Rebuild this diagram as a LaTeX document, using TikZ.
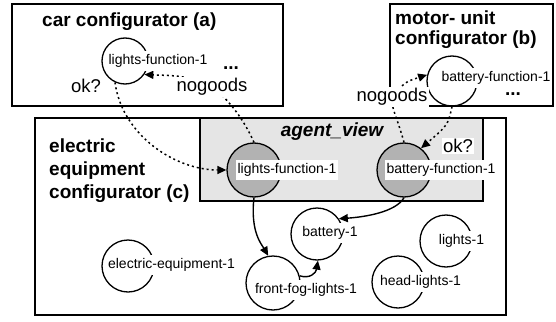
\documentclass[tikz,border=0pt]{standalone}
\usepackage{fontspec}
\setmainfont{Liberation Sans}
\usetikzlibrary{arrows.meta}
\definecolor{viewgray}{RGB}{229,229,229}
\definecolor{vargray}{RGB}{178,178,178}
\tikzset{
  frame/.style={draw, line width=1.6pt, rectangle, inner sep=0pt},
  viewframe/.style={frame, fill=viewgray},
  title/.style={font=\fontsize{19}{22.8}\selectfont\bfseries, align=left, inner sep=0pt, anchor=base west},
  var/.style={draw, line width=1.3pt, circle, inner sep=0pt},
  agentvar/.style={var, fill=vargray},
  vlabel/.style={font=\fontsize{14}{16}\selectfont, fill=white, inner xsep=1.5pt, inner ysep=3pt, text height=10.5pt, text depth=3pt},
  msg/.style={font=\fontsize{18.5}{20}\selectfont, fill=white, inner xsep=1.5pt, inner ysep=1.5pt},
  more/.style={font=\fontsize{19}{20}\selectfont\bfseries, inner sep=0pt},
  dotline/.style={line width=1.5pt, dash pattern=on 2pt off 3pt},
  tip/.style={-{Triangle[length=9pt,width=8pt]}},
  link/.style={line width=1.4pt, tip},
}
\begin{document}
\begin{tikzpicture}[x=1pt, y=-1pt]
\useasboundingbox (0,0) rectangle (556,321);

% configurator frames
\node[frame, minimum width=271pt, minimum height=102pt] (car) at (147.5,55) {};
\node[frame, minimum width=163pt, minimum height=102pt] (motor) at (471.5,55) {};
\node[frame, minimum width=471pt, minimum height=197pt] (elec) at (270.5,216.5) {};
\node[viewframe, minimum width=283pt, minimum height=83pt] (view) at (341.5,159.5) {};

% titles (multi-line titles sit on the baseline of their last line)
\node[title] (carT) at (42,27) {car configurator (a)};
\node[title, font=\fontsize{19}{20.5}\selectfont\bfseries] (motorT) at (395,45) {motor- unit\\configurator (b)};
\node[title] (elecT) at (49,198) {electric\\equipment\\configurator (c)};
\node[font=\fontsize{19}{20}\selectfont\bfseries\itshape, inner sep=0pt] (viewT) at (332,132) {agent\_view};

% variables
\node[var, minimum size=46pt] (carLF) at (125,61) {};
\node[var, minimum size=50pt] (motorBF) at (452,81) {};
\node[agentvar, minimum size=54pt] (agLF) at (254,170) {};
\node[agentvar, minimum size=54pt] (agBF) at (404,170) {};
\node[var, minimum size=52pt] (bat) at (317,234) {};
\node[var, minimum size=54pt] (fog) at (273,283) {};
\node[var, minimum size=52pt] (eq) at (128,266) {};
\node[var, minimum size=52pt] (head) at (398,282) {};
\node[var, minimum size=52pt] (lights) at (446,241) {};

% message paths
\coordinate (nogLc) at (212,87);
\coordinate (nogRc) at (392,97);
\draw[dotline, tip] (carLF.-115) .. controls (122,135) and (175,170) .. (agLF.west);
\draw[dotline] (agLF.north) .. controls (245,122) and (230,100) .. (nogLc);
\draw[dotline, tip] (nogLc) .. controls (185,76) .. (carLF.-35);
\draw[dotline] (agBF.north) .. controls (398,120) and (390,105) .. (nogRc);
\draw[dotline, tip] (nogRc) .. controls (405,82) .. (motorBF.166);
\draw[dotline, tip] (motorBF.south) .. controls (448,125) .. (agBF.52);

% constraint links
\draw[link] (agLF.south) .. controls (250,232) and (262,245) .. (fog.100);
\draw[link] (agBF.south) .. controls (396,212) and (365,217) .. (bat.35);
\draw[link] (fog.15) .. controls (310,279) and (316,273) .. (bat.-88);

% variable names
\node[vlabel] (carLFt) at (158,61) {lights-function-1};
\node[vlabel] (motorBFt) at (496,78) {battery-function-1};
\node[vlabel] (agLFt) at (287,170) {lights-function-1};
\node[vlabel] (agBFt) at (441,170) {battery-function-1};
\node[vlabel] (batt) at (330,233) {battery-1};
\node[vlabel] (fogt) at (306,290) {front-fog-lights-1};
\node[vlabel] (eqt) at (171.5,265) {electric-equipment-1};
\node[vlabel] (headt) at (420.5,282) {head-lights-1};
\node[vlabel] (lightst) at (461.5,241) {lights-1};

% message labels
\node[msg] (okL) at (86,86) {ok?};
\node[msg] (nogL) at (nogLc) {nogoods};
\node[msg] (nogR) at (nogRc) {nogoods};
\node[msg] (okR) at (458,146) {ok?};
\node[more] (moreA) at (231,68) {...};
\node[more] (moreB) at (513,94) {...};
\end{tikzpicture}
\end{document}
